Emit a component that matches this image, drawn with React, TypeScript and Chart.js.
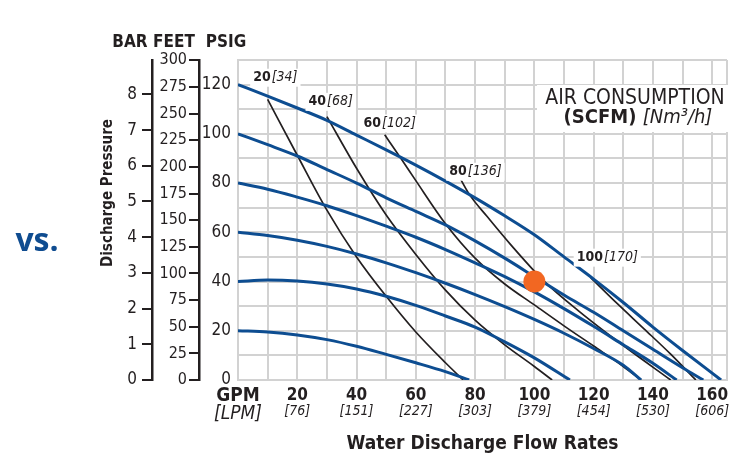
import { useEffect, useRef } from 'react';
import { Chart, registerables } from 'chart.js';

Chart.register(...registerables);

// ---------- data ----------
const GPM_TICKS = [20, 40, 60, 80, 100, 120, 140, 160];
const LPM_LABELS = ['76', '151', '227', '303', '379', '454', '530', '606'];
const PSIG_TICKS = [0, 20, 40, 60, 80, 100, 120];
const FEET_TICKS = [0, 25, 50, 75, 100, 125, 150, 175, 200, 225, 250, 275, 300];
const BAR_TICKS = [0, 1, 2, 3, 4, 5, 6, 7, 8];

// constant air inlet pressure curves [GPM, PSIG]
const PSI_120 = [[0, 120], [10, 115.3], [20, 110.5], [30, 105.5], [40, 99.5], [50, 93.5], [60, 87.3], [70, 80.8], [80, 74], [90, 66.7], [100, 59], [110, 50], [120, 41], [130, 31.5], [140, 21.5], [150, 12], [163, 0]];
const PSI_100 = [[0, 100], [10, 95.6], [20, 91], [30, 85.5], [40, 80], [50, 74], [60, 68.5], [70, 63], [80, 56.5], [90, 49.5], [100, 42], [110, 34.5], [120, 27.5], [130, 20], [140, 12.5], [150, 5], [157, 0]];
const PSI_80 = [[0, 80], [10, 77.5], [20, 74.3], [30, 70.8], [40, 66.8], [50, 62.5], [60, 58], [70, 53], [80, 47.6], [90, 42], [100, 35.8], [110, 29], [120, 21.8], [130, 14.3], [140, 6.8], [148, 0]];
const PSI_60 = [[0, 60], [10, 58.7], [20, 56.8], [30, 54.3], [40, 51.2], [50, 47.6], [60, 43.6], [70, 39.3], [80, 34.7], [90, 29.8], [100, 24.6], [110, 19], [120, 12.8], [130, 6], [136, 0]];
const PSI_40 = [[0, 40], [10, 40.6], [20, 40.2], [30, 39], [40, 37], [50, 34], [60, 30.3], [70, 26], [80, 21.5], [90, 15.5], [100, 9], [112, 0]];
const PSI_20 = [[0, 20], [10, 19.5], [20, 18.3], [30, 16.4], [40, 13.7], [50, 10.4], [60, 7], [70, 3.4], [78, 0]];

// air consumption curves [GPM, PSIG]
const SCFM_LABELS = ['20', '40', '60', '80', '100'];
const NM3H_LABELS = ['34', '68', '102', '136', '170'];
const SCFM_20 = [[10, 114], [20, 91.3], [30, 69], [40, 50], [50, 34], [60, 19.5], [70, 7], [76, 0]];
const SCFM_40 = [[30, 107], [40, 86], [50, 67], [60, 51], [70, 36.5], [80, 24.3], [90, 14.3], [100, 5.5], [106, 0]];
const SCFM_60 = [[49.5, 99.6], [55, 90], [60, 81], [70, 63.5], [80, 49.5], [90, 39], [100, 30.5], [110, 22], [120, 13.8], [130, 5.5], [136, 0]];
const SCFM_80 = [[74, 84], [78, 75.5], [84, 66.5], [92, 55], [103, 40.5], [115, 28], [130, 14], [146, 0]];
const SCFM_100 = [[119, 41.6], [128, 31], [137, 20.8], [146, 10.5], [154.5, 0]];
// label anchors (data coords) for air consumption curves
const SCFM_LABEL_AT = [[12.6, 122.8], [31.3, 113], [51.2, 104.2], [80.1, 84.6], [124.6, 49.7]];

const OPERATING_POINT = [[100, 40]];

// ---------- style ----------
const FONT = "'Liberation Sans Narrow', 'DejaVu Sans Condensed', 'Liberation Sans', sans-serif";
const TEXT = '#231f20';
const BLUE = '#0d4d91';
const GRID = '#d2d2d2';
const ORANGE = '#f26722';
const PSI_TO_FEET = 2.31;
const PSI_TO_BAR = 1 / 14.5038;
const X_MAX = 165;
const Y_MAX = 130;

const X_GRID: number[] = [];
for (let v = 0; v <= 160; v += 10) X_GRID.push(v);
X_GRID.push(X_MAX);
const Y_GRID: number[] = [];
for (let v = 0; v <= Y_MAX; v += 10) Y_GRID.push(v);

const toXY = (arr: number[][]) => arr.map(([x, y]) => ({ x, y }));

const overlay = {
  id: 'overlay',
  afterDatasetsDraw(chart: any) {
    const { ctx, chartArea, scales } = chart;
    const xs = scales.x;
    const ys = scales.y;
    ctx.save();
    // curve labels
    SCFM_LABELS.forEach((s, i) => {
      const [lx, ly] = SCFM_LABEL_AT[i];
      const px = xs.getPixelForValue(lx);
      const py = ys.getPixelForValue(ly);
      const bold = `bold 14px ${FONT}`;
      const ital = `italic 14px ${FONT}`;
      const br = `[${NM3H_LABELS[i]}]`;
      ctx.font = bold;
      const w1 = ctx.measureText(s).width;
      ctx.font = ital;
      const w2 = ctx.measureText(br).width;
      const w = w1 + w2 + 1;
      const left = px - w / 2;
      ctx.fillStyle = '#ffffff';
      ctx.fillRect(left - 3, py - 9, w + 6, 18);
      ctx.fillStyle = TEXT;
      ctx.textBaseline = 'middle';
      ctx.textAlign = 'left';
      ctx.font = bold;
      ctx.fillText(s, left, py);
      ctx.font = ital;
      ctx.fillText(br, left + w1 + 1, py);
    });
    // legend box
    const bx0 = chartArea.right - 190;
    const bx1 = chartArea.right + 3;
    const by0 = chartArea.top + 25;
    const by1 = chartArea.top + 72;
    ctx.fillStyle = '#ffffff';
    ctx.fillRect(bx0, by0, bx1 - bx0, by1 - by0);
    const cx = chartArea.right - 92;
    ctx.fillStyle = TEXT;
    ctx.textBaseline = 'middle';
    ctx.textAlign = 'center';
    ctx.font = `21px ${FONT}`;
    ctx.fillText('AIR CONSUMPTION', cx, chartArea.top + 39);
    const p1 = '(SCFM) ';
    const p2 = '[Nm³/h]';
    ctx.font = `bold 20px ${FONT}`;
    const a = ctx.measureText(p1).width;
    ctx.font = `italic 20px ${FONT}`;
    const b = ctx.measureText(p2).width;
    const l2 = cx - (a + b) / 2 + 3;
    ctx.textAlign = 'left';
    ctx.font = `bold 20px ${FONT}`;
    ctx.fillText(p1, l2, chartArea.top + 58);
    ctx.font = `italic 20px ${FONT}`;
    ctx.fillText(p2, l2 + a, chartArea.top + 58);
    ctx.restore();
  },
  afterDraw(chart: any) {
    const { ctx, chartArea, scales } = chart;
    ctx.save();
    ctx.fillStyle = TEXT;
    ctx.textAlign = 'center';
    ctx.textBaseline = 'middle';
    ctx.font = `bold 17px ${FONT}`;
    const hy = chartArea.top - 17;
    ctx.fillText('BAR', scales.yBar.right - 22, hy);
    ctx.fillText('FEET', scales.yFeet.right - 25, hy);
    ctx.fillText('PSIG', chartArea.left - 12, hy);
    // vertical axis title
    ctx.save();
    ctx.translate(scales.yBar.left + 10.5, (chartArea.top + chartArea.bottom) / 2 - 27);
    ctx.rotate(-Math.PI / 2);
    ctx.font = `bold 15px ${FONT}`;
    ctx.fillText('Discharge Pressure', 0, 0);
    ctx.restore();
    // "vs."
    ctx.fillStyle = '#0f4c90';
    ctx.textBaseline = 'alphabetic';
    ctx.font = `bold 32px 'Open Sans', sans-serif`;
    ctx.fillText('vs.', 37, 251);
    ctx.restore();
  },
};

export default function App() {
  const ref = useRef<HTMLCanvasElement | null>(null);
  useEffect(() => {
    if (!ref.current) return;
    const blue = [PSI_120, PSI_100, PSI_80, PSI_60, PSI_40, PSI_20].map((d, i) => ({
      type: 'line' as const,
      label: `psi${i}`,
      data: toXY(d),
      borderColor: BLUE,
      borderWidth: 3,
      pointRadius: 0,
      fill: false,
      cubicInterpolationMode: 'monotone' as const,
      xAxisID: 'x',
      yAxisID: 'y',
    }));
    const black = [SCFM_20, SCFM_40, SCFM_60, SCFM_80, SCFM_100].map((d, i) => ({
      type: 'line' as const,
      label: `scfm${i}`,
      data: toXY(d),
      borderColor: TEXT,
      borderWidth: 1.7,
      pointRadius: 0,
      fill: false,
      cubicInterpolationMode: 'monotone' as const,
      xAxisID: 'x',
      yAxisID: 'y',
    }));
    const dot = {
      type: 'scatter' as const,
      label: 'point',
      data: toXY(OPERATING_POINT),
      pointRadius: 11,
      pointHoverRadius: 11,
      backgroundColor: ORANGE,
      borderWidth: 0,
      xAxisID: 'x',
      yAxisID: 'y',
    };
    const chart = new Chart(ref.current, {
      type: 'line',
      data: { datasets: [dot, ...blue, ...black] as any },
      plugins: [overlay],
      options: {
        animation: false,
        responsive: false,
        events: [],
        layout: { padding: { left: 98, right: 22, top: 60, bottom: 2 } },
        plugins: { legend: { display: false }, tooltip: { enabled: false } },
        scales: {
          x: {
            type: 'linear',
            position: 'bottom',
            weight: 0,
            min: 0,
            max: X_MAX,
            afterBuildTicks: (s: any) => { s.ticks = X_GRID.map((v) => ({ value: v })); },
            afterFit: (s: any) => { s.height = 22; },
            grid: { color: GRID, lineWidth: 2, drawTicks: false },
            border: { display: true, color: GRID, width: 2 },
            ticks: {
              autoSkip: false,
              maxRotation: 0,
              padding: 5,
              color: TEXT,
              font: (c: any) => (c.index === 0 ? { family: FONT, size: 19, weight: 'bold' } : { family: FONT, size: 17, weight: 'bold' }),
              callback: (v: any) => (v === 0 ? 'GPM' : GPM_TICKS.includes(v) ? String(v) : ''),
            },
          },
          xL: {
            type: 'linear',
            position: 'bottom',
            weight: 1,
            min: 0,
            max: X_MAX,
            afterBuildTicks: (s: any) => { s.ticks = X_GRID.map((v) => ({ value: v })); },
            afterFit: (s: any) => { s.height = 53; },
            grid: { display: false, drawTicks: false },
            border: { display: false },
            ticks: {
              autoSkip: false,
              maxRotation: 0,
              padding: 1,
              color: TEXT,
              font: (c: any) => (c.index === 0 ? { family: FONT, size: 19, style: 'italic' } : { family: FONT, size: 14, style: 'italic' }),
              callback: (v: any) => {
                if (v === 0) return '[LPM]';
                const i = GPM_TICKS.indexOf(v);
                return i >= 0 ? `[${LPM_LABELS[i]}]` : '';
              },
            },
            title: {
              display: true,
              text: 'Water Discharge Flow Rates',
              color: TEXT,
              font: { family: FONT, size: 19, weight: 'bold' },
              padding: 0,
            },
          },
          y: {
            type: 'linear',
            position: 'left',
            weight: 0,
            min: 0,
            max: Y_MAX,
            afterBuildTicks: (s: any) => { s.ticks = Y_GRID.map((v) => ({ value: v })); },
            afterFit: (s: any) => { s.width = 39; },
            grid: { color: GRID, lineWidth: 2, drawTicks: false },
            border: { display: true, color: GRID, width: 2 },
            ticks: {
              autoSkip: false,
              padding: 7,
              color: TEXT,
              font: { family: FONT, size: 17 },
              callback: (v: any) => (PSIG_TICKS.includes(v) ? String(v) : ''),
            },
          },
          yFeet: {
            type: 'linear',
            position: 'left',
            weight: 1,
            min: 0,
            max: Y_MAX * PSI_TO_FEET,
            afterBuildTicks: (s: any) => { s.ticks = FEET_TICKS.map((v) => ({ value: v })); },
            afterFit: (s: any) => { s.width = 47; },
            grid: { drawOnChartArea: false, drawTicks: true, tickLength: 10, color: TEXT, lineWidth: 2 },
            border: { display: true, color: TEXT, width: 2.5 },
            ticks: { autoSkip: false, padding: 2, color: TEXT, font: { family: FONT, size: 16 } },
          },
          yBar: {
            type: 'linear',
            position: 'left',
            weight: 2,
            min: 0,
            max: Y_MAX * PSI_TO_BAR,
            afterBuildTicks: (s: any) => { s.ticks = BAR_TICKS.map((v) => ({ value: v })); },
            afterFit: (s: any) => { s.width = 54; },
            grid: { drawOnChartArea: false, drawTicks: true, tickLength: 10, color: TEXT, lineWidth: 2 },
            border: { display: true, color: TEXT, width: 2.5 },
            ticks: { autoSkip: false, padding: 5, color: TEXT, font: { family: FONT, size: 17 } },
          },
        } as any,
      },
    });
    return () => chart.destroy();
  }, []);
  return (
    <div style={{ position: 'absolute', left: 0, top: 0, width: 749, height: 457, background: '#fff' }}>
      <canvas ref={ref} width={749} height={457} style={{ display: 'block', width: 749, height: 457 }} />
    </div>
  );
}
